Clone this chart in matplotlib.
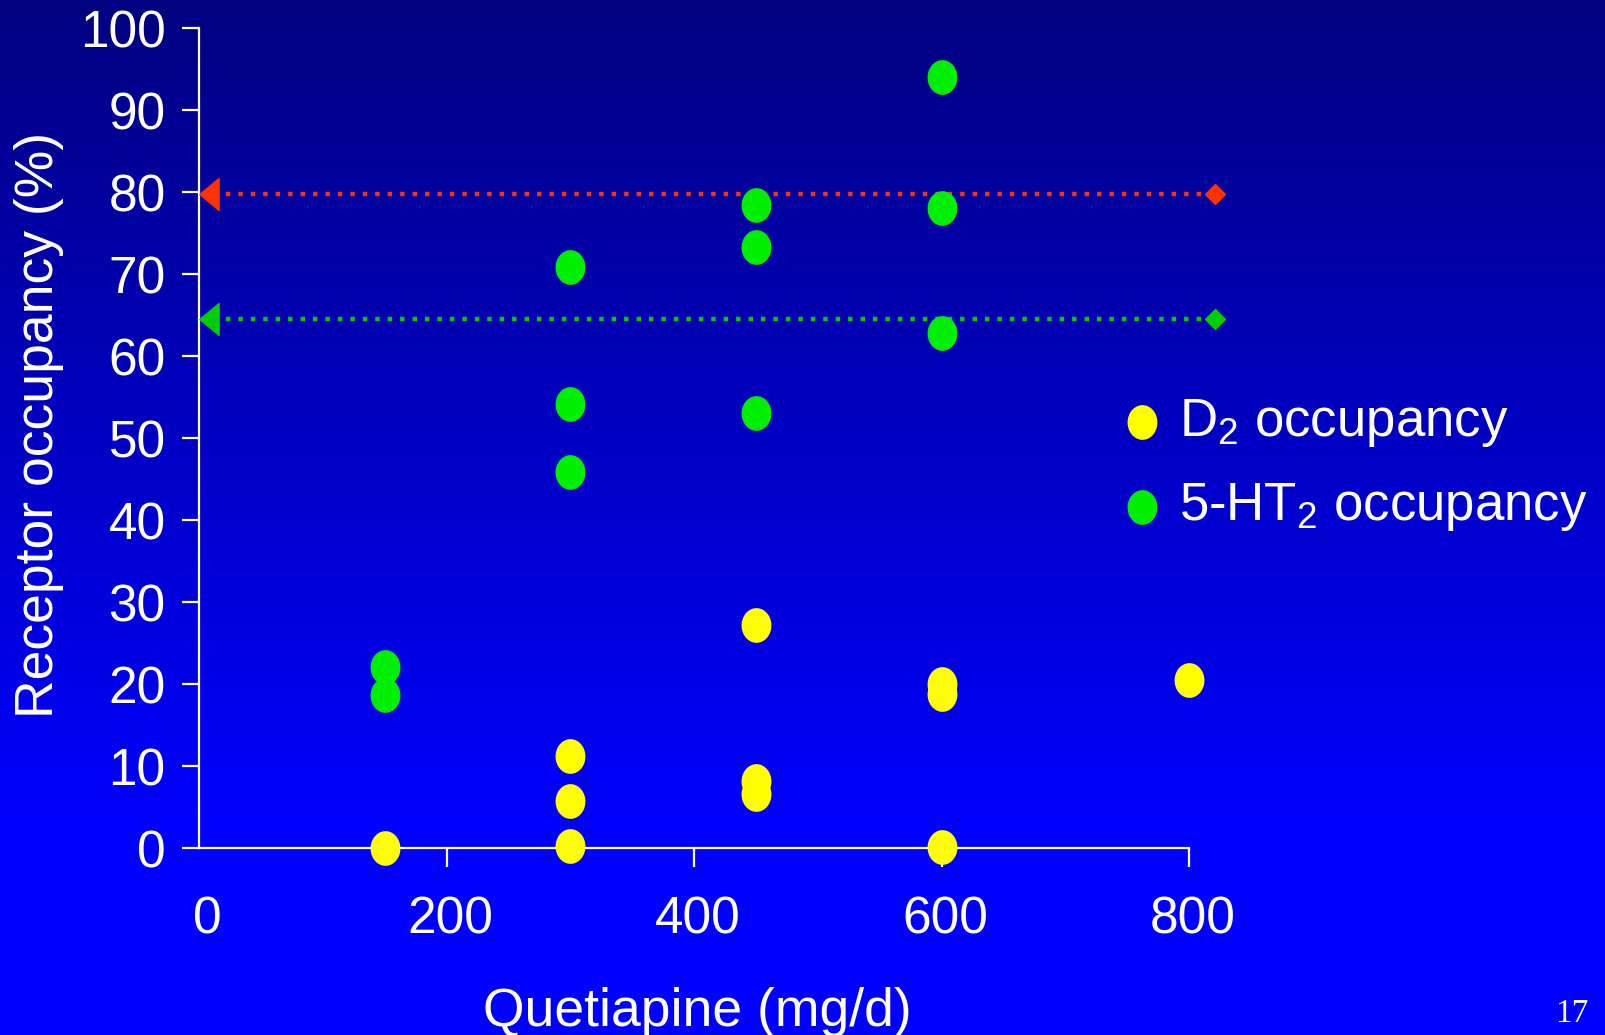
import numpy as np
import matplotlib
matplotlib.use("Agg")
import matplotlib.pyplot as plt
from matplotlib.path import Path
from matplotlib.transforms import ScaledTranslation

plt.rcParams['font.family'] = ['Liberation Sans', 'DejaVu Sans']
plt.rcParams['mathtext.fontset'] = 'custom'
plt.rcParams['mathtext.rm'] = 'Liberation Sans'

# data
d2_dose = [150, 300, 300, 300, 450, 450, 450, 600, 600, 600, 800]
d2_occ = [0, 11.2, 5.7, 0.3, 27.2, 8.2, 6.6, 20.0, 18.8, 0.1, 20.5]
ht2_dose = [150, 150, 300, 300, 300, 450, 450, 450, 600, 600, 600]
ht2_occ = [22.1, 18.6, 70.8, 54.1, 45.9, 78.4, 73.3, 53.1, 94.0, 78.1, 62.8]

# reference thresholds (dotted lines)
ref_levels = [79.7, 64.5]
ref_colors = ['#FF3300', '#00CC00']
ref_xrange = [2, 821]

xticks = [0, 200, 400, 600, 800]
yticks = list(range(0, 101, 10))

W, H = 1606, 1035
fig = plt.figure(figsize=(W / 100, H / 100), dpi=100)

# blue gradient background
bg = fig.add_axes([0, 0, 1, 1], zorder=-10)
rows = np.arange(H)
frac = np.clip(rows / 830.0, 0, 1)
grad = np.zeros((H, 1, 3))
grad[:, 0, 2] = (128 + 127 * frac) / 255.0
bg.imshow(grad, aspect='auto', extent=[0, 1, 0, 1], origin='upper')
bg.axis('off')

ax = fig.add_axes([199 / W, 1 - 848 / H, (1189 - 199) / W, (848 - 28) / H])
ax.patch.set_visible(False)

# oval marker like the slide
t = np.linspace(0, 2 * np.pi, 60)
oval = Path(np.column_stack([0.43 * np.cos(t), 0.5 * np.sin(t)]), closed=True)

ax.scatter(d2_dose, d2_occ, s=25 ** 2, marker=oval, color='#FFFF00',
           linewidths=0, clip_on=False, zorder=4, label='D$_2$ occupancy')
ax.scatter(ht2_dose, ht2_occ, s=25 ** 2, marker=oval, color='#00EE00',
           linewidths=0, clip_on=False, zorder=4, label='5-HT$_2$ occupancy')

arrow = Path([(-0.6, 0), (0.6, -1), (0.6, 1), (-0.6, 0)], closed=True)
for lvl, col in zip(ref_levels, ref_colors):
    ax.plot(ref_xrange, [lvl, lvl], color=col, lw=3.2, linestyle=(0, (1, 1.8)),
            dash_capstyle='butt', clip_on=False, zorder=3)
    ax.plot([ref_xrange[0] + 6], [lvl], marker=arrow, markersize=23, color=col,
            clip_on=False, zorder=3, linestyle='none')
    ax.plot([ref_xrange[1]], [lvl], marker='D', markersize=10, color=col,
            clip_on=False, zorder=3, linestyle='none')

ax.set_xlim(0, 800)
ax.set_ylim(0, 100)
ax.set_xticks(xticks)
ax.set_yticks(yticks)
for s in ['top', 'right']:
    ax.spines[s].set_visible(False)
for s in ['left', 'bottom']:
    ax.spines[s].set_color('white')
    ax.spines[s].set_linewidth(1.6)
ax.tick_params(axis='x', direction='out', length=14, width=1.6, colors='white',
               labelsize=37, pad=20)
ax.tick_params(axis='y', direction='out', length=12, width=1.6, colors='white',
               labelsize=37, pad=12)
ax.xaxis.get_major_ticks()[0].tick1line.set_visible(False)
for i, lab in enumerate(ax.get_xticklabels()):
    dx = 8 if i == 0 else 4
    lab.set_transform(lab.get_transform() + ScaledTranslation(dx / 100, 0, fig.dpi_scale_trans))

fig.text(697 / W, 1 - 1012 / H, 'Quetiapine (mg/d)', color='white', fontsize=38.5,
         ha='center', va='center')
fig.text(39 / W, 1 - 425 / H, 'Receptor occupancy (%)', color='white', fontsize=38.5,
         ha='center', va='center', rotation=90)

leg = ax.legend(loc='center left', bbox_to_anchor=(1121 / W, 1 - 465 / H),
                bbox_transform=fig.transFigure, frameon=False, fontsize=38,
                handlelength=0.8, handletextpad=0.3, labelspacing=0.62,
                borderpad=0, borderaxespad=0, scatterpoints=1)
for txt in leg.get_texts():
    txt.set_color('white')

fig.text(1572 / W, 1 - 1014 / H, '17', color='white', fontsize=24,
         family='Liberation Serif', ha='center', va='center')

fig.savefig('out.png', dpi=100)
